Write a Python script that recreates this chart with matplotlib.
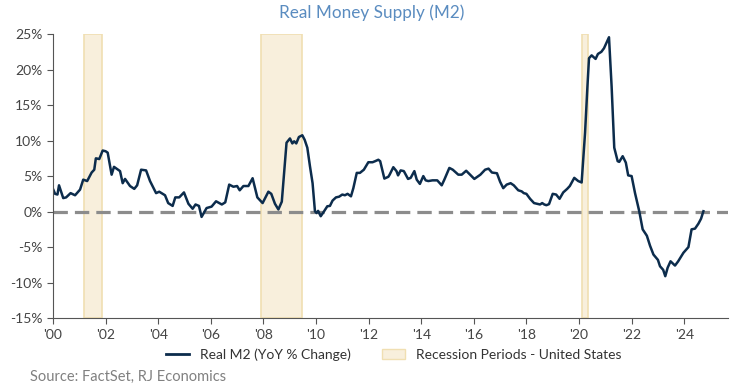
import matplotlib.pyplot as plt
from matplotlib.patches import Patch
from matplotlib.lines import Line2D

plt.rcParams['font.family'] = ['Lato', 'DejaVu Sans']

# data (decimal year, YoY %)
years = [2000.0, 2000.08, 2000.17, 2000.23, 2000.39, 2000.5, 2000.67, 2000.84, 2001.03, 2001.15,
         2001.3, 2001.47, 2001.57, 2001.63, 2001.76, 2001.89, 2002.0, 2002.08, 2002.23, 2002.32,
         2002.55, 2002.65, 2002.74, 2002.93, 2003.09, 2003.2, 2003.35, 2003.54, 2003.69, 2003.92,
         2004.04, 2004.26, 2004.38, 2004.55, 2004.65, 2004.8, 2004.98, 2005.15, 2005.31, 2005.42,
         2005.55, 2005.65, 2005.84, 2006.03, 2006.2, 2006.42, 2006.55, 2006.7, 2006.86, 2007.0,
         2007.1, 2007.24, 2007.43, 2007.59, 2007.77, 2007.97, 2008.19, 2008.3, 2008.44, 2008.57,
         2008.7, 2008.88, 2009.01, 2009.1, 2009.17, 2009.25, 2009.35, 2009.48, 2009.57, 2009.67,
         2009.77, 2009.87, 2009.96, 2010.02, 2010.08, 2010.18, 2010.3, 2010.43, 2010.53, 2010.63,
         2010.76, 2010.88, 2011.0, 2011.1, 2011.2, 2011.33, 2011.42, 2011.55, 2011.67, 2011.82,
         2011.99, 2012.15, 2012.25, 2012.37, 2012.44, 2012.6, 2012.75, 2012.8, 2012.94, 2013.06,
         2013.12, 2013.22, 2013.34, 2013.5, 2013.6, 2013.74, 2013.83, 2013.95, 2014.08, 2014.17,
         2014.27, 2014.43, 2014.61, 2014.78, 2014.88, 2015.07, 2015.2, 2015.41, 2015.54, 2015.71,
         2015.86, 2016.02, 2016.25, 2016.43, 2016.56, 2016.69, 2016.88, 2017.0, 2017.12, 2017.25,
         2017.4, 2017.52, 2017.69, 2017.82, 2017.9, 2018.0, 2018.14, 2018.29, 2018.4, 2018.52,
         2018.6, 2018.68, 2018.76, 2018.86, 2019.0, 2019.13, 2019.26, 2019.4, 2019.55, 2019.65,
         2019.82, 2019.97, 2020.1, 2020.23, 2020.32, 2020.38, 2020.48, 2020.63, 2020.72, 2020.85,
         2020.95, 2021.05, 2021.14, 2021.24, 2021.34, 2021.47, 2021.53, 2021.66, 2021.78, 2021.87,
         2022.0, 2022.13, 2022.29, 2022.42, 2022.58, 2022.7, 2022.83, 2023.0, 2023.08, 2023.2,
         2023.28, 2023.37, 2023.48, 2023.65, 2023.77, 2023.97, 2024.16, 2024.28, 2024.41, 2024.54,
         2024.64, 2024.73]
real_m2 = [3.2, 2.5, 2.4, 3.7, 1.9, 2.0, 2.6, 2.3, 3.1, 4.5,
           4.3, 5.5, 5.9, 7.5, 7.4, 8.6, 8.5, 8.3, 5.2, 6.3,
           5.7, 4.0, 4.6, 3.6, 3.2, 3.7, 5.9, 5.8, 4.3, 2.6,
           2.8, 2.3, 1.2, 0.8, 2.0, 2.0, 2.7, 1.1, 0.4, 1.0,
           0.8, -0.75, 0.5, 0.7, 1.45, 1.0, 1.3, 3.8, 3.5, 3.6,
           3.0, 3.6, 3.6, 4.7, 2.0, 1.2, 2.8, 2.5, 1.1, 0.3,
           1.4, 9.7, 10.3, 9.6, 9.9, 9.6, 10.5, 10.75, 10.1, 9.0,
           6.4, 4.0, 0.05, -0.2, 0.1, -0.65, 0.0, 0.75, 0.8, 1.55,
           2.0, 2.1, 2.4, 2.3, 2.5, 2.15, 3.3, 5.45, 5.45, 5.9,
           6.95, 6.95, 7.1, 7.3, 7.1, 4.65, 4.9, 5.2, 6.25, 5.7,
           5.1, 5.8, 5.7, 4.6, 4.75, 5.7, 4.5, 3.9, 5.0, 4.4,
           4.3, 4.4, 4.4, 3.7, 4.5, 6.15, 5.9, 5.2, 5.2, 5.75,
           5.2, 4.6, 5.2, 5.9, 6.05, 5.5, 5.4, 4.2, 3.3, 3.8,
           4.0, 3.7, 3.0, 2.85, 2.6, 2.5, 1.8, 1.2, 1.1, 1.0,
           1.2, 1.0, 0.9, 1.05, 2.5, 2.4, 1.8, 2.7, 3.2, 3.6,
           4.75, 4.3, 4.1, 11.1, 17.6, 21.6, 22.0, 21.5, 22.2, 22.5,
           23.0, 23.8, 24.55, 17.6, 9.0, 7.1, 7.0, 7.8, 6.9, 5.1,
           5.0, 2.6, 0.05, -2.5, -3.4, -4.8, -6.05, -6.8, -7.7, -8.2,
           -9.1, -7.9, -7.0, -7.6, -7.0, -5.8, -5.0, -2.5, -2.4, -1.7,
           -1.0, 0.05]

rec_start = [2001.17, 2007.92, 2020.12]
rec_end = [2001.87, 2009.48, 2020.35]

x_ticks = list(range(2000, 2025, 2))
x_labels = ["'%02d" % (y % 100) for y in x_ticks]
y_ticks = list(range(-15, 30, 5))

navy = '#0c2c4c'
fig = plt.figure(figsize=(7.43, 3.87), dpi=100)
ax = fig.add_axes([0.0713, 0.178, 0.9087, 0.734])

for s, e in zip(rec_start, rec_end):
    ax.axvspan(s, e, facecolor='#f8efdc', edgecolor='#f0dfb2', lw=1.2, zorder=0)

ax.axhline(0, color='#8c8c8c', lw=2.3, ls=(0, (4.5, 2.2)), zorder=1)
ax.plot(years, real_m2, color=navy, lw=1.8, zorder=2)

ax.set_xlim(2000, 2025.67)
ax.set_ylim(-15, 25)
ax.set_xticks(x_ticks)
ax.set_xticklabels(x_labels)
ax.set_yticks(y_ticks)
ax.set_yticklabels(['%d%%' % v for v in y_ticks])
ax.tick_params(labelsize=10, colors='#444444', length=4, color='#555555')
for sp in ['top', 'right']:
    ax.spines[sp].set_visible(False)
for sp in ['left', 'bottom']:
    ax.spines[sp].set_color('#555555')

fig.text(0.5, 0.968, 'Real Money Supply (M2)', ha='center', va='center',
         fontsize=12.3, color='#5a8cc0')

handles = [Line2D([], [], color=navy, lw=2),
           Patch(facecolor='#f8efdc', edgecolor='#f0dfb2')]
fig.legend(handles, ['Real M2 (YoY % Change)', 'Recession Periods - United States'],
           loc='center', bbox_to_anchor=(0.53, 0.083), ncol=2, frameon=False,
           fontsize=10, handlelength=1.6, columnspacing=2.3,
           labelcolor='#333333')

fig.text(0.04, 0.025, 'Source: FactSet, RJ Economics', ha='left', va='center',
         fontsize=10.5, color='#808080')

fig.savefig('out.png', dpi=100)
